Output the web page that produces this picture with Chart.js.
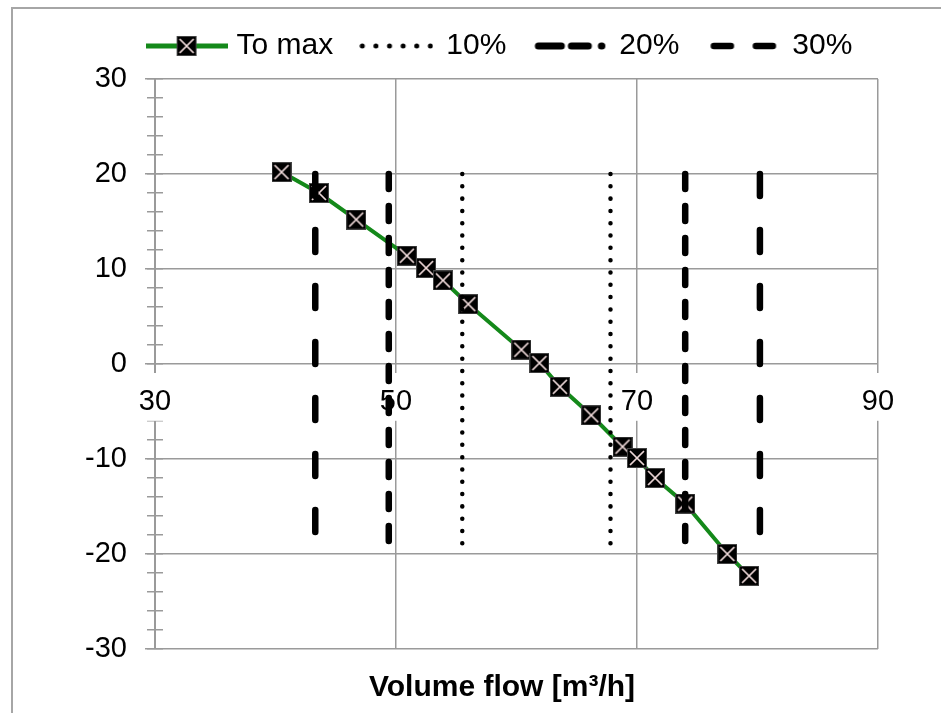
<!DOCTYPE html>
<html>
<head>
<meta charset="utf-8">
<script src="https://cdn.jsdelivr.net/npm/chart.js@4.4.0/dist/chart.umd.min.js"></script>
<style>
html,body{margin:0;padding:0;background:#fff;overflow:hidden;}
#wrap{position:relative;width:941px;height:713px;overflow:hidden;background:#fff;}
#frame{position:absolute;left:11px;top:7px;width:1000px;height:800px;border:2px solid #a6a6a6;box-sizing:border-box;}
#c{position:absolute;left:0;top:0;}
</style>
</head>
<body>
<div id="wrap"><div id="frame"></div><canvas id="c" width="941" height="713"></canvas></div>
<script>
// ---- data ----
const seriesNames = ['To max', '10%', '20%', '30%'];
const toMaxX = [40.5, 43.6, 46.7, 50.9, 52.5, 53.9, 56.0, 60.4, 61.9, 63.6, 66.2, 68.8, 70.0, 71.5, 74.0, 77.5, 79.3];
const toMaxY = [20.2, 18.0, 15.2, 11.4, 10.1, 8.8, 6.3, 1.5, 0.1, -2.4, -5.4, -8.7, -9.9, -12.0, -14.7, -20.0, -22.3];
const pct10X = [55.5, 67.8];
const pct20X = [49.4, 74.0];
const pct30X = [43.3, 80.2];
const limitTopY = 20;
const limitBottomY = -20;
const xTickValues = [30, 50, 70, 90];
const yTickValues = [-30, -20, -10, 0, 10, 20, 30];
const yMinorStep = 2;
const xTitle = 'Volume flow [m³/h]';

// ---- styling ----
const FONT = "'Liberation Sans', Arial, sans-serif";
const GRID = '#9a9a9a';
const GREEN = '#14891a';

function makeMarker(size) {
  const c = document.createElement('canvas');
  c.width = size; c.height = size;
  const g = c.getContext('2d');
  g.fillStyle = '#000';
  g.fillRect(0, 0, size, size);
  g.strokeStyle = '#444';
  g.lineWidth = 1;
  g.strokeRect(0.5, 0.5, size - 1, size - 1);
  g.strokeStyle = '#f2dcdc';
  g.lineWidth = 1.7;
  g.beginPath();
  g.moveTo(3, 3); g.lineTo(size - 3, size - 3);
  g.moveTo(size - 3, 3); g.lineTo(3, size - 3);
  g.stroke();
  return c;
}
const marker = makeMarker(20);

function icon(w, h, draw) {
  const c = document.createElement('canvas');
  c.width = w; c.height = h;
  draw(c.getContext('2d'), w, h);
  return c;
}
const legendIcons = [
  icon(82, 24, (g, w, h) => {
    g.strokeStyle = GREEN; g.lineWidth = 5;
    g.beginPath(); g.moveTo(0, h / 2); g.lineTo(w, h / 2); g.stroke();
    g.drawImage(marker, w / 2 - 10, h / 2 - 10);
  }),
  icon(74, 12, (g, w, h) => {
    g.strokeStyle = '#000'; g.lineWidth = 5; g.lineCap = 'round';
    g.setLineDash([0.01, 13.6]);
    g.beginPath(); g.moveTo(3, h / 2); g.lineTo(72, h / 2); g.stroke();
  }),
  icon(76, 12, (g, w, h) => {
    g.strokeStyle = '#000'; g.lineWidth = 7; g.lineCap = 'round';
    [[7, 30], [40, 57], [70, 70.5]].forEach(([a, b]) => {
      g.beginPath(); g.moveTo(a, h / 2); g.lineTo(b, h / 2); g.stroke();
    });
  }),
  icon(76, 12, (g, w, h) => {
    g.strokeStyle = '#000'; g.lineWidth = 6.5; g.lineCap = 'round';
    [[9.5, 26.5], [51.5, 68.5]].forEach(([a, b]) => {
      g.beginPath(); g.moveTo(a, h / 2); g.lineTo(b, h / 2); g.stroke();
    });
  })
];

function verticalLimits(xs) {
  const pts = [];
  xs.forEach((x, i) => {
    if (i) pts.push({ x: (xs[i - 1] + x) / 2, y: null });
    pts.push({ x: x, y: limitTopY }, { x: x, y: limitBottomY });
  });
  return pts;
}

const minorScale = (len) => ({
  type: 'linear',
  position: { x: xTickValues[0] },
  min: yTickValues[0],
  max: yTickValues[yTickValues.length - 1],
  ticks: { display: false, stepSize: yMinorStep },
  grid: { drawOnChartArea: false, drawTicks: true, tickLength: len, color: GRID, tickColor: GRID, lineWidth: 1.5, tickWidth: 1.5 },
  border: { display: false },
  afterFit: (s) => { s.width = 0; }
});

new Chart(document.getElementById('c'), {
  type: 'line',
  data: {
    datasets: [
      {
        label: seriesNames[0],
        xAxisID: 'x', yAxisID: 'y',
        data: toMaxX.map((x, i) => ({ x: x, y: toMaxY[i] })),
        borderColor: GREEN, borderWidth: 4, tension: 0,
        pointStyle: marker, pointRadius: 10, pointHoverRadius: 10,
        order: 1, fill: false
      },
      {
        label: seriesNames[1],
        xAxisID: 'x', yAxisID: 'y',
        data: verticalLimits(pct10X),
        borderColor: '#000', borderWidth: 4.5, borderCapStyle: 'round',
        borderDash: [0.01, 12.3], pointRadius: 0, spanGaps: false, order: 0, fill: false
      },
      {
        label: seriesNames[2],
        xAxisID: 'x', yAxisID: 'y',
        data: verticalLimits(pct20X),
        borderColor: '#000', borderWidth: 6.5, borderCapStyle: 'round',
        borderDash: [15, 17], pointRadius: 0, spanGaps: false, order: 0, fill: false
      },
      {
        label: seriesNames[3],
        xAxisID: 'x', yAxisID: 'y',
        data: verticalLimits(pct30X),
        borderColor: '#000', borderWidth: 6.5, borderCapStyle: 'round',
        borderDash: [22, 34], pointRadius: 0, spanGaps: false, order: 0, fill: false
      }
    ]
  },
  options: {
    responsive: false,
    animation: false,
    devicePixelRatio: 1,
    layout: { padding: { left: 80, right: 17, top: 3, bottom: 0 } },
    events: [],
    scales: {
      x: {
        type: 'linear',
        position: { y: 0 },
        min: xTickValues[0],
        max: xTickValues[xTickValues.length - 1],
        afterBuildTicks: (s) => { s.ticks = xTickValues.map(v => ({ value: v })); },
        ticks: {
          font: { family: FONT, size: 29 }, color: '#000', padding: 21,
          showLabelBackdrop: true, backdropColor: '#fff',
          backdropPadding: { top: 12, bottom: 1, left: 2, right: 2 },
          maxRotation: 0
        },
        grid: { color: GRID, lineWidth: 1.5, drawTicks: false },
        border: { display: false },
        afterFit: (s) => { s.height = 0; }
      },
      y: {
        type: 'linear',
        position: 'left',
        min: yTickValues[0],
        max: yTickValues[yTickValues.length - 1],
        afterBuildTicks: (s) => { s.ticks = yTickValues.map(v => ({ value: v })); },
        ticks: { font: { family: FONT, size: 29 }, color: '#000', padding: 18 },
        grid: { color: GRID, lineWidth: 1.5, tickLength: 10, tickColor: GRID },
        border: { display: true, color: GRID, width: 2, z: -1 },
        afterFit: (s) => { s.width = 75; }
      },
      xSpacer: {
        type: 'linear',
        position: 'top',
        display: true,
        min: 0, max: 1,
        grid: { display: false },
        border: { display: false },
        ticks: { display: false },
        afterFit: (s) => { s.height = 8; }
      },
      ySpacer: {
        type: 'linear',
        position: 'right',
        display: true,
        min: 0, max: 1,
        grid: { display: false },
        border: { display: false },
        ticks: { display: false },
        afterFit: (s) => { s.width = 46; }
      },
      yMinorOut: minorScale(8),
      yMinorIn: minorScale(-8)
    },
    plugins: {
      legend: {
        display: true,
        position: 'top',
        align: 'center',
        labels: {
          usePointStyle: true,
          pointStyleWidth: 70,
          boxHeight: 20,
          padding: 28,
          color: '#000',
          font: { family: FONT, size: 30 },
          generateLabels: () => seriesNames.map((name, i) => ({
            text: name, pointStyle: legendIcons[i], fillStyle: 'transparent',
            strokeStyle: 'transparent', lineWidth: 0, hidden: false,
            datasetIndex: i, fontColor: '#000'
          }))
        }
      },
      title: {
        display: true,
        position: 'bottom',
        text: xTitle,
        color: '#000',
        font: { family: FONT, size: 30, weight: 'bold' },
        padding: { top: 21, bottom: 7 }
      },
      tooltip: { enabled: false }
    }
  }
});
</script>
</body>
</html>
